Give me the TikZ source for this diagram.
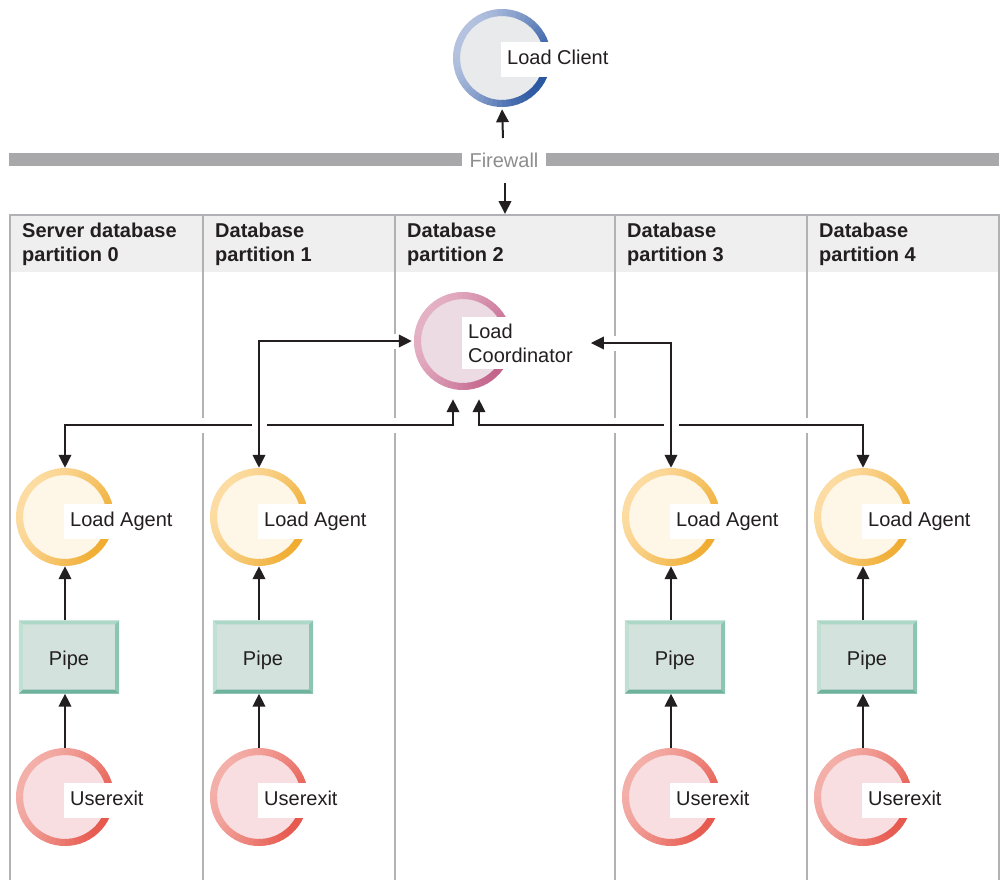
\documentclass[tikz,border=0pt]{standalone}
\usepackage{fontspec}
\setmainfont{Liberation Sans}
\usetikzlibrary{arrows.meta,calc}

\definecolor{ink}{HTML}{231F20}
\definecolor{tabline}{HTML}{B2B2B6}
\definecolor{headgray}{HTML}{EFEFEF}
\definecolor{fwgray}{HTML}{A8A8AB}
\definecolor{fwtext}{HTML}{8E8E90}
% process rings: face, light side, dark side
\definecolor{clface}{HTML}{E9EAEC}\definecolor{cllight}{HTML}{B4C2DF}\definecolor{cldark}{HTML}{2A57A2}
\definecolor{coface}{HTML}{ECDBE2}\definecolor{colight}{HTML}{E4B0C4}\definecolor{codark}{HTML}{C2628A}
\definecolor{agface}{HTML}{FEF6E6}\definecolor{aglight}{HTML}{FCDCA2}\definecolor{agdark}{HTML}{F0AC30}
\definecolor{ueface}{HTML}{F8DDE1}\definecolor{uelight}{HTML}{F3B0A9}\definecolor{uedark}{HTML}{E7584D}
% pipe box
\definecolor{pipeface}{HTML}{D3E2DC}
\definecolor{pipetop}{HTML}{ADD7C7}
\definecolor{pipeleft}{HTML}{BFE0D3}
\definecolor{piperight}{HTML}{8CC6B3}
\definecolor{pipebottom}{HTML}{6FB39E}

\newcommand\diagfont{\fontsize{20pt}{24pt}\selectfont}

\tikzset{
  lbl/.style={fill=white, anchor=west, inner xsep=6pt, inner ysep=0pt,
    minimum height=35pt, font=\diagfont, text=ink, align=left},
  lblone/.style={lbl, text height=14.5pt, text depth=4.5pt},
  headtxt/.style={anchor=north west, inner sep=0pt, align=left,
    font=\diagfont\bfseries, text=ink},
  pipebox/.style={minimum width=100pt, minimum height=73pt, inner sep=0pt,
    fill=pipeface, font=\diagfont, text=ink, text height=19pt, text depth=1.7pt},
  tab/.style={draw=tabline, line width=2pt},
  arr/.style={draw=ink, line width=2pt, -{Triangle[length=13pt,width=12.5pt]}},
  barr/.style={draw=ink, line width=2pt,
    {Triangle[length=13pt,width=12.5pt]}-{Triangle[length=13pt,width=12.5pt]},
    preaction={draw=white, line width=15pt, -}},
}

% circular process with a shaded ring: name, position, face, light, dark
\newcommand\ringproc[5]{%
  \node[circle, inner sep=0pt, minimum size=98pt, fill=#3] (#1) at (#2) {};
  \foreach \a in {0,6,...,354}{%
    \pgfmathtruncatemacro\mixpct{100*((1+cos(\a+30))/2)^1.3}%
    \draw[line width=7pt, draw=#5!\mixpct!#4]
      (#1.center) ++(\a:45.5) arc[start angle=\a, end angle=\a+7, radius=45.5];
  }%
}

% bevelled edges of a pipe box
\newcommand\bevel[1]{%
  \fill[pipetop] (#1.north west) -- (#1.north east) -- ($(#1.north east)+(-4,-4)$)
    -- ($(#1.north west)+(4,-4)$) -- cycle;
  \fill[pipeleft] (#1.north west) -- ($(#1.north west)+(4,-4)$)
    -- ($(#1.south west)+(4,4)$) -- (#1.south west) -- cycle;
  \fill[piperight] (#1.north east) -- (#1.south east) -- ($(#1.south east)+(-4,4)$)
    -- ($(#1.north east)+(-4,-4)$) -- cycle;
  \fill[pipebottom] (#1.south west) -- (#1.south east) -- ($(#1.south east)+(-4,4)$)
    -- ($(#1.south west)+(4,4)$) -- cycle;
}

\begin{document}
\begin{tikzpicture}[x=1pt, y=1pt]
\useasboundingbox (0,0) rectangle (1002,-879);

% firewall
\fill[fwgray] (9,-153) rectangle (999,-166);
\node[fill=white, inner xsep=8pt, font=\diagfont, text=fwtext] (fw) at (504,-160) {Firewall};

% table of partitions
\fill[headgray] (11,-216) rectangle (998,-272);
\draw[tab] (10,-885) -- (10,-215) -- (999,-215) -- (999,-885);
\foreach \x in {203,395,615,807} \draw[tab] (\x,-215) -- (\x,-885);
\node[headtxt] (h0) at (22,-223) {Server database\\partition 0};
\node[headtxt] (h1) at (215,-223) {Database\\partition 1};
\node[headtxt] (h2) at (407,-223) {Database\\partition 2};
\node[headtxt] (h3) at (627,-223) {Database\\partition 3};
\node[headtxt] (h4) at (819,-223) {Database\\partition 4};
\coordinate (tabtop) at (505,-214);
\coordinate (fwup) at (503,-138);
\coordinate (fwdn) at (505,-183);
\coordinate (bus) at (0,-425);

% load client and coordinator
\ringproc{client}{502,-58}{clface}{cllight}{cldark}
\node[lblone] (clientl) at ([xshift=-1pt,yshift=-1.6pt]client.center) {Load Client};
\ringproc{coord}{463,-341}{coface}{colight}{codark}
\node[lbl, minimum height=52pt] (coordl) at ([xshift=-1pt,yshift=-2pt]coord.center) {Load\\Coordinator};

% agents, pipes and user exits per partition
\foreach \n/\x in {0/65, 1/259, 3/671, 4/863}{%
  \ringproc{a\n}{\x,-517}{agface}{aglight}{agdark}
  \node[lblone] (a\n l) at ([xshift=-1pt,yshift=-4.5pt]a\n.center) {Load Agent};
  \node[pipebox] (p\n) at (\x+4,-657) {Pipe};
  \bevel{p\n}
  \ringproc{u\n}{\x,-797}{ueface}{uelight}{uedark}
  \node[lblone] (u\n l) at ([xshift=-1pt,yshift=-3.5pt]u\n.center) {Userexit};
  \draw[arr] (p\n.north -| a\n) -- (a\n.south);
  \draw[arr] (u\n.north) -- (p\n.south -| u\n);
}

% firewall crossing
\draw[arr, shorten >=2pt] (fwup) -- (client.south);
\draw[arr] (fwdn) -- (tabtop);

% coordinator to agents
\coordinate (cl) at ([xshift=-10pt,yshift=-9pt]coord.south);
\coordinate (cr) at ([xshift=16pt,yshift=-9pt]coord.south);
\draw[barr] (a0.north) -- (a0.north |- bus) -| (cl);
\draw[barr] (cr) -- (cr |- bus) -| (a4.north);
\draw[barr] (a1.north) |- ([xshift=-2pt]coord.west);
\draw[barr] (a3.north) |- ([xshift=12pt]coordl.east);
\end{tikzpicture}
\end{document}
